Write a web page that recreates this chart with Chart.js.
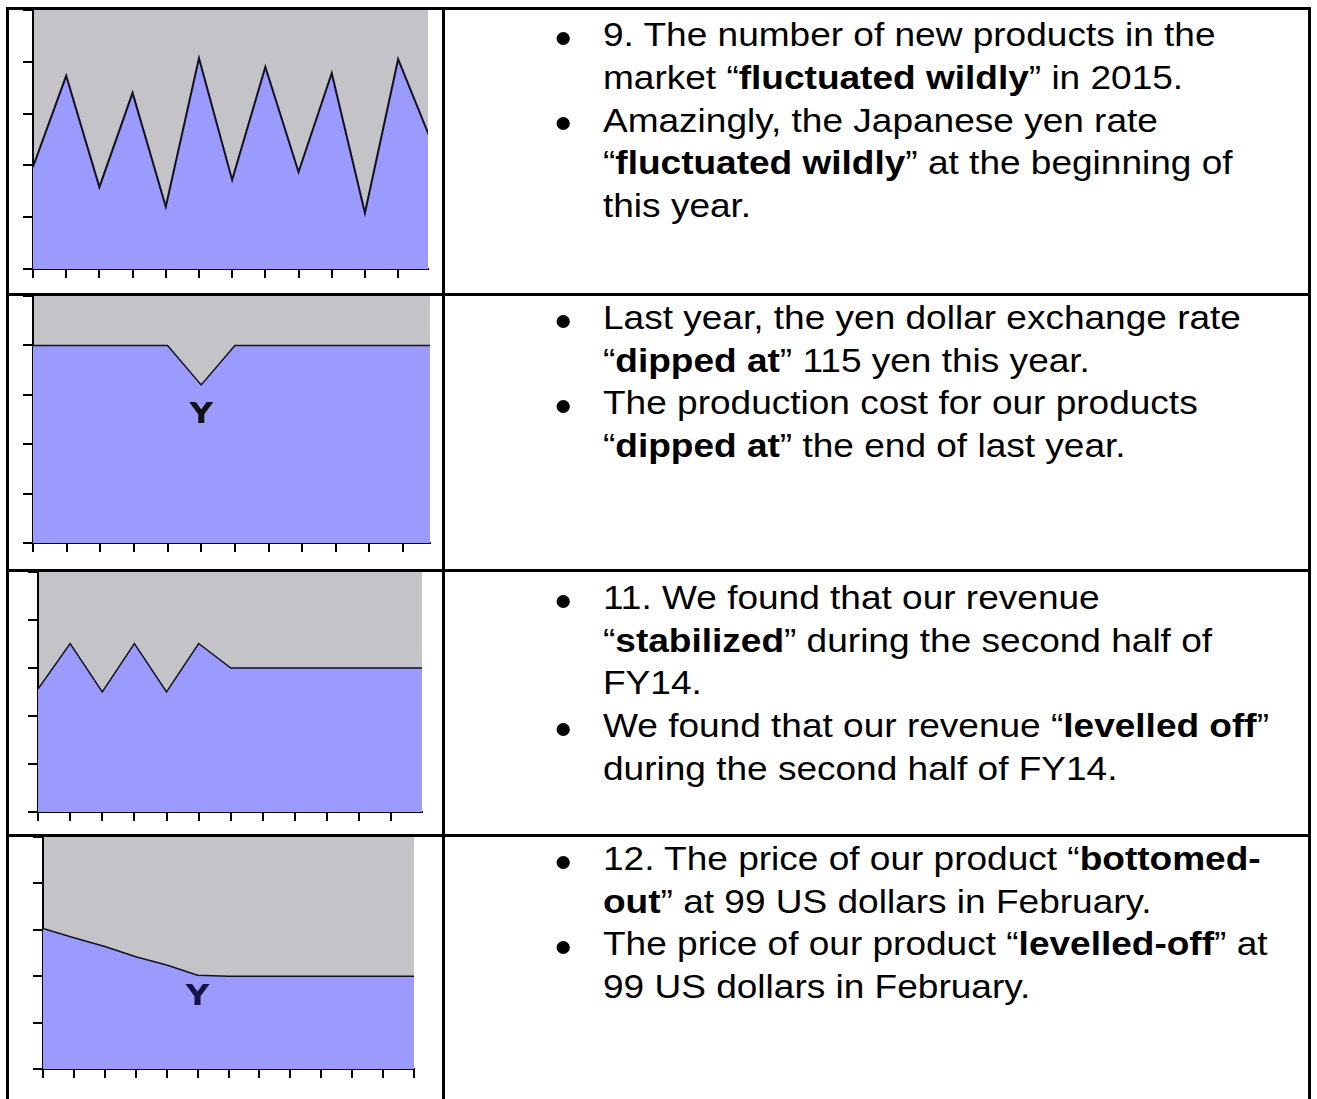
<!DOCTYPE html>
<html>
<head>
<meta charset="utf-8">
<script src="https://cdn.jsdelivr.net/npm/chart.js@4.4.1/dist/chart.umd.min.js"></script>
<style>
  body { margin: 0; background: #fff; }
  #page { position: relative; width: 1317px; height: 1099px; overflow: hidden;
          font-family: "Liberation Sans", Arial, sans-serif; color: #000; }
  .rule { position: absolute; background: #000; }
  canvas { position: absolute; left: 9px; }
  .txt { position: absolute; left: 603px; font-size: 33.5px; line-height: 42.7px;
         white-space: nowrap; transform: scaleX(1.105); transform-origin: 0 0; }
  .txt p { margin: 0; position: relative; }
  .txt p::before { content: ""; position: absolute; left: -42px; top: 17.5px;
                   width: 12px; height: 13px; border-radius: 50%; background: #000; }
</style>
</head>
<body>
<div id="page">
  <div class="rule" style="left:6px;top:7px;width:1305px;height:3px"></div>
  <div class="rule" style="left:6px;top:293px;width:1305px;height:3px"></div>
  <div class="rule" style="left:6px;top:569px;width:1305px;height:3px"></div>
  <div class="rule" style="left:6px;top:834px;width:1305px;height:3px"></div>
  <div class="rule" style="left:6px;top:7px;width:3px;height:1100px"></div>
  <div class="rule" style="left:442px;top:7px;width:3px;height:1100px"></div>
  <div class="rule" style="left:1308px;top:7px;width:3px;height:1100px"></div>

  <canvas id="chart1" width="433" height="283" style="top:10px"></canvas>
  <canvas id="chart2" width="433" height="273" style="top:296px"></canvas>
  <canvas id="chart3" width="433" height="262" style="top:572px"></canvas>
  <canvas id="chart4" width="433" height="262" style="top:837px"></canvas>

  <div class="txt" style="top:14.3px">
    <p>9. The number of new products in the<br>market “<b>fluctuated wildly</b>” in 2015.</p>
    <p>Amazingly, the Japanese yen rate<br>“<b>fluctuated wildly</b>” at the beginning of<br>this year.</p>
  </div>
  <div class="txt" style="top:297px">
    <p>Last year, the yen dollar exchange rate<br>“<b>dipped at</b>” 115 yen this year.</p>
    <p>The production cost for our products<br>“<b>dipped at</b>” the end of last year.</p>
  </div>
  <div class="txt" style="top:577px">
    <p>11. We found that our revenue<br>“<b>stabilized</b>” during the second half of<br>FY14.</p>
    <p>We found that our revenue “<b>levelled off</b>”<br>during the second half of FY14.</p>
  </div>
  <div class="txt" style="top:838px">
    <p>12. The price of our product “<b>bottomed-</b><br><b>out</b>” at 99 US dollars in February.</p>
    <p>The price of our product “<b>levelled-off</b>” at<br>99 US dollars in February.</p>
  </div>
</div>

<script>
// x positions (periods) shared by all four little charts
const periods = [0, 1, 2, 3, 4, 5, 6, 7, 8, 9, 10, 11, 12];

// values, y axis 0..5
const fluctuatedValues = [1.97, 3.73, 1.58, 3.40, 1.20, 4.07, 1.72, 3.90, 1.87, 3.78, 1.08, 4.05, 2.47];
const dippedValues     = [4, 4, 4, 4, 4, 3.2, 4, 4, 4, 4, 4, 4, 4];
const stabilizedValues = [2.56, 3.51, 2.5, 3.51, 2.5, 3.51, 3, 3, 3, 3, 3, 3, 3];
const bottomedValues   = [3.03, 2.83, 2.64, 2.42, 2.24, 2.02, 2, 2, 2, 2, 2, 2, 2];

// "Y" marker positions (period, value)
const dipMark = [5, 2.58];
const bottomMark = [5, 1.55];

const plotBg = {
  id: 'plotBg',
  beforeDraw(chart, args, opts) {
    const { ctx, chartArea: a } = chart;
    ctx.save();
    ctx.fillStyle = opts.color;
    ctx.fillRect(a.left, a.top, a.right - a.left, a.bottom - a.top);
    ctx.restore();
  }
};

const letterMark = {
  id: 'letterMark',
  afterDatasetsDraw(chart, args, opts) {
    if (!opts.at) return;
    const { ctx, scales } = chart;
    ctx.save();
    ctx.translate(scales.x.getPixelForValue(opts.at[0]), scales.y.getPixelForValue(opts.at[1]));
    ctx.scale(1.12, 1);
    ctx.font = 'bold 29px "DejaVu Sans"';
    ctx.fillStyle = opts.color;
    ctx.textAlign = 'center';
    ctx.textBaseline = 'middle';
    ctx.fillText('Y', 0, 0);
    ctx.restore();
  }
};

function makeChart(id, values, xMax, padding, lineWidth, mark, markColor) {
  return new Chart(document.getElementById(id), {
    type: 'line',
    data: {
      datasets: [{
        data: periods.map((p, i) => ({ x: p, y: values[i] })),
        borderColor: '#111122',
        borderWidth: lineWidth,
        backgroundColor: '#9b9bfd',
        fill: 'origin',
        pointRadius: 0,
        tension: 0
      }]
    },
    options: {
      responsive: false,
      animation: false,
      events: [],
      layout: { padding },
      scales: {
        x: {
          type: 'linear', min: 0, max: xMax, z: 1,
          ticks: { display: false, stepSize: 1, includeBounds: false },
          grid: { drawOnChartArea: false, tickLength: 9, color: '#000', lineWidth: 2 },
          border: { color: '#000', width: 2 }
        },
        y: {
          min: 0, max: 5, z: 1,
          ticks: { display: false, stepSize: 1 },
          grid: { drawOnChartArea: false, tickLength: 10, color: '#000', lineWidth: 2 },
          border: { color: '#000', width: 2 }
        }
      },
      plugins: {
        legend: { display: false },
        tooltip: { enabled: false },
        plotBg: { color: '#c4c3c8' },
        letterMark: { at: mark, color: markColor }
      }
    },
    plugins: [plotBg, letterMark]
  });
}

makeChart('chart1', fluctuatedValues, 11.9, { left: 14, top: 0, right: 14, bottom: 15 }, 2, null, '#000');
makeChart('chart2', dippedValues, 11.8, { left: 14, top: 0, right: 12, bottom: 17 }, 1.5, dipMark, '#111');
makeChart('chart3', stabilizedValues, 11.95, { left: 19, top: 0, right: 20, bottom: 13 }, 1.5, null, '#000');
makeChart('chart4', bottomedValues, 12, { left: 24, top: 0, right: 28, bottom: 21 }, 1.5, bottomMark, '#14144a');
</script>
</body>
</html>
